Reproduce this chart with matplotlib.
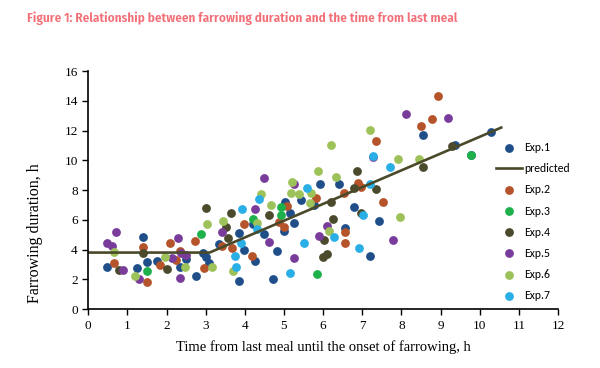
import matplotlib.pyplot as plt

# Data (x = time from last meal, y = farrowing duration)
exp1_x = [0.49, 1.41, 1.5, 1.25, 1.75, 2.34, 2.51, 2.76, 2.92, 3.0, 3.09, 3.34, 3.85, 3.85, 3.97, 4.21, 4.27, 4.5,
          4.82, 4.73, 5.03, 5.01, 5.26, 5.16, 5.44, 5.78, 5.93, 6.4, 6.78, 6.57, 7.19, 7.44, 8.54, 9.37, 9.79, 10.28]
exp1_y = [2.81, 4.83, 3.19, 2.74, 3.23, 2.83, 3.35, 2.22, 3.75, 3.48, 3.12, 4.35, 1.88, 5.14, 3.97, 5.7, 3.23, 5.03,
          3.91, 2.02, 7.19, 5.25, 5.77, 6.44, 7.34, 7.0, 8.42, 8.42, 6.89, 5.43, 3.57, 5.93, 11.67, 11.04, 10.33, 11.9]

exp2_x = [0.66, 1.41, 1.5, 1.83, 2.08, 2.23, 2.34, 2.74, 2.96, 3.43, 3.68, 3.98, 4.18, 4.88, 4.99, 5.09, 5.82, 6.53,
          6.89, 6.96, 6.55, 6.55, 7.53, 7.36, 8.49, 8.79, 8.94]
exp2_y = [3.08, 4.15, 1.84, 2.94, 4.44, 3.3, 3.93, 4.6, 2.74, 4.26, 4.09, 5.72, 3.57, 5.84, 5.5, 6.96, 7.5, 7.79,
          8.46, 8.24, 5.2, 4.42, 7.23, 11.31, 12.32, 12.79, 14.3]

exp3_x = [1.5, 2.89, 4.21, 4.93, 4.92, 5.85, 9.79]
exp3_y = [2.56, 5.03, 6.04, 6.89, 6.33, 2.36, 10.33]

exp4_x = [0.78, 1.41, 2.0, 3.02, 3.51, 3.57, 3.66, 4.62, 5.99, 6.1, 6.02, 6.25, 6.21, 6.78, 6.86, 6.97, 7.36, 8.54, 9.28]
exp4_y = [2.63, 3.75, 2.69, 6.82, 5.54, 4.8, 6.44, 6.33, 3.48, 3.7, 4.65, 6.04, 7.19, 8.13, 9.25, 6.44, 8.06, 9.52, 10.98]

exp5_x = [0.48, 0.61, 0.72, 0.88, 1.31, 2.14, 2.3, 2.38, 2.51, 2.34, 3.43, 4.26, 4.5, 4.62, 5.25, 5.26, 5.89, 6.09,
          7.27, 7.79, 8.11, 9.2]
exp5_y = [4.42, 4.26, 5.16, 2.6, 2.02, 3.41, 4.8, 3.75, 3.64, 2.07, 5.21, 6.76, 8.8, 4.49, 3.41, 8.42, 4.92, 5.61,
          10.2, 4.65, 13.13, 12.84]

exp6_x = [0.66, 1.19, 1.97, 2.46, 3.03, 3.15, 3.45, 3.7, 4.32, 4.41, 4.68, 5.18, 5.2, 5.39, 5.69, 5.67, 5.86, 6.21,
          6.33, 6.16, 7.21, 7.91, 7.96, 8.44]
exp6_y = [3.82, 2.22, 3.48, 2.85, 5.7, 2.81, 5.9, 2.58, 5.81, 7.72, 7.0, 7.83, 8.57, 7.72, 7.79, 7.12, 9.31, 11.04,
          8.91, 5.27, 12.05, 10.08, 6.22, 10.08]

exp7_x = [3.75, 3.77, 3.9, 3.94, 4.3, 4.35, 5.16, 5.5, 5.59, 6.27, 6.91, 7.02, 7.19, 7.27, 7.7]
exp7_y = [3.57, 2.85, 4.47, 6.71, 5.37, 7.39, 2.4, 4.47, 8.13, 4.87, 4.13, 6.33, 8.42, 10.26, 9.58]

pred_x = [0, 3.1, 10.55]
pred_y = [3.8, 3.8, 12.2]

colors = ['#1F4E89', '#B5532A', '#1DB04B', '#4B4A2D', '#7A3C9A', '#9DC25A', '#2AAEE6']
dot = 40
serif = ['Liberation Serif', 'DejaVu Serif']

fig = plt.figure(figsize=(6, 3.68), dpi=100)
ax = fig.add_axes([0.147, 0.160, 0.783, 0.647])

ax.scatter(exp1_x, exp1_y, s=dot, color=colors[0], label='Exp.1', linewidths=0)
ax.plot(pred_x, pred_y, color='#4A4A2A', lw=1.9, label='predicted')
ax.scatter(exp2_x, exp2_y, s=dot, color=colors[1], label='Exp.2', linewidths=0)
ax.scatter(exp3_x, exp3_y, s=dot, color=colors[2], label='Exp.3', linewidths=0)
ax.scatter(exp4_x, exp4_y, s=dot, color=colors[3], label='Exp.4', linewidths=0)
ax.scatter(exp5_x, exp5_y, s=dot, color=colors[4], label='Exp.5', linewidths=0)
ax.scatter(exp6_x, exp6_y, s=dot, color=colors[5], label='Exp.6', linewidths=0)
ax.scatter(exp7_x, exp7_y, s=dot, color=colors[6], label='Exp.7', linewidths=0)

ax.set_xlim(0, 12)
ax.set_ylim(0, 16)
ax.set_xticks(range(0, 13))
ax.set_yticks(range(0, 17, 2))
for s in ['top', 'right']:
    ax.spines[s].set_visible(False)
for s in ['left', 'bottom']:
    ax.spines[s].set_linewidth(1.2)
ax.tick_params(direction='out', length=4, width=1, labelsize=9.5)
for lab in ax.get_xticklabels() + ax.get_yticklabels():
    lab.set_family(serif)

ax.set_xlabel('Time from last meal until the onset of farrowing, h', family=serif, fontsize=10.5, labelpad=6)
ax.set_ylabel('Farrowing duration, h', family=serif, fontsize=11.5)
ax.yaxis.set_label_coords(-0.096, 0.32)

ax.legend(loc='upper left', bbox_to_anchor=(0.858, 0.72), frameon=False,
          prop={'family': ['Carlito', 'DejaVu Sans'], 'size': 8.5},
          labelspacing=0.85, handlelength=2.2, handletextpad=0.15, borderaxespad=0)

fig.text(0.045, 0.951, 'Figure 1: Relationship between farrowing duration and the time from last meal',
         color='#F36F77', fontsize=9.5, fontweight='semibold',
         family=['Fira Sans Condensed', 'Roboto Condensed', 'DejaVu Sans'], va='center')

plt.savefig('out.png', dpi=100)
